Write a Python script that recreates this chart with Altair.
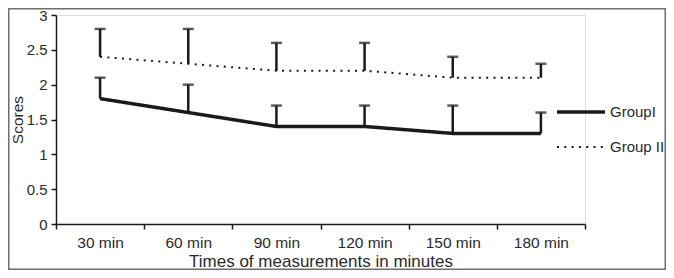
import altair as alt
import pandas as pd

times = ["30 min", "60 min", "90 min", "120 min", "150 min", "180 min"]
groups = ["GroupI", "Group II"]
g1_mean = [1.8, 1.6, 1.4, 1.4, 1.3, 1.3]
g1_upper = [2.1, 2.0, 1.7, 1.7, 1.7, 1.6]
g2_mean = [2.4, 2.3, 2.2, 2.2, 2.1, 2.1]
g2_upper = [2.8, 2.8, 2.6, 2.6, 2.4, 2.3]

rows = []
for t, m, u in zip(times, g1_mean, g1_upper):
    rows.append({"time": t, "group": groups[0], "score": m, "upper": u})
for t, m, u in zip(times, g2_mean, g2_upper):
    rows.append({"time": t, "group": groups[1], "score": m, "upper": u})
df = pd.DataFrame(rows)

INK = "#1a1a1a"
TXT = "#2a2a2a"
FONT = "Liberation Sans"

xscale = alt.Scale(type="band", domain=times, paddingInner=0, paddingOuter=0)
x_axis = alt.Axis(
    title="Times of measurements in minutes",
    labelAngle=0, tickBand="extent", tickSize=5, tickWidth=1.5, tickColor=INK,
    domainColor=INK, domainWidth=1.5, labelFontSize=15.5, labelColor=TXT,
    labelFont=FONT, labelPadding=6, titleFont=FONT, titleFontSize=17,
    titleFontWeight="normal", titleColor=TXT, titlePadding=3,
)
y_axis = alt.Axis(
    title="Scores", values=[0, 0.5, 1, 1.5, 2, 2.5, 3], format="~g",
    grid=False, tickSize=5, tickWidth=1.5, tickColor=INK, domainColor=INK,
    domainWidth=1.5, labelFontSize=15, labelColor=TXT, labelFont=FONT,
    labelPadding=4, titleFont=FONT, titleFontSize=15.5, titleFontWeight="normal",
    titleColor=TXT, titleX=-33.5, titleY=104.5, titleAlign="center",
    titleBaseline="alphabetic", titleAngle=270,
)
yscale = alt.Scale(domain=[0, 3], nice=False)


def xenc():
    return alt.X("time:N", scale=xscale, axis=x_axis, sort=times)


def yenc(field):
    return alt.Y(field, type="quantitative", scale=yscale, axis=y_axis)


legend = alt.Legend(
    title=None, orient="none", legendX=499, legendY=71,
    symbolType="stroke", symbolSize=2304, symbolStrokeColor=INK,
    labelFontSize=15, labelFont=FONT, labelColor=TXT, labelOffset=3,
)

base = alt.Chart(df)

bars = base.mark_rule(color=INK, strokeWidth=2.5).encode(
    x=xenc(),
    y=yenc("score"),
    y2="upper:Q",
)

caps = base.mark_tick(color=INK, size=11, thickness=2.5).encode(
    x=xenc(),
    y=yenc("upper"),
)

lines = base.mark_line(color=INK, strokeCap="butt").encode(
    x=xenc(),
    y=yenc("score"),
    strokeDash=alt.StrokeDash(
        "group:N",
        scale=alt.Scale(domain=groups, range=[[1, 0], [2, 5.3]]),
        legend=legend,
    ),
    strokeWidth=alt.StrokeWidth(
        "group:N",
        scale=alt.Scale(domain=groups, range=[3.5, 2]),
        legend=legend,
    ),
    detail="group:N",
)

frame = alt.Chart(pd.DataFrame({"f": [0]})).mark_rect(
    filled=False, stroke="#6e6e6e", strokeWidth=1.5, clip=False
).encode(
    x=alt.value(-47.25), x2=alt.value(609.25),
    y=alt.value(-6.25), y2=alt.value(254.25),
)

chart = alt.layer(bars, caps, lines, frame).properties(
    width=529, height=209,
    autosize=alt.AutoSizeParams(type="none"),
    padding={"left": 48, "top": 7, "right": 81, "bottom": 46},
).configure_view(stroke=None).configure(background="white")

chart.save("out.html", embed_options={"renderer": "svg", "actions": False})
